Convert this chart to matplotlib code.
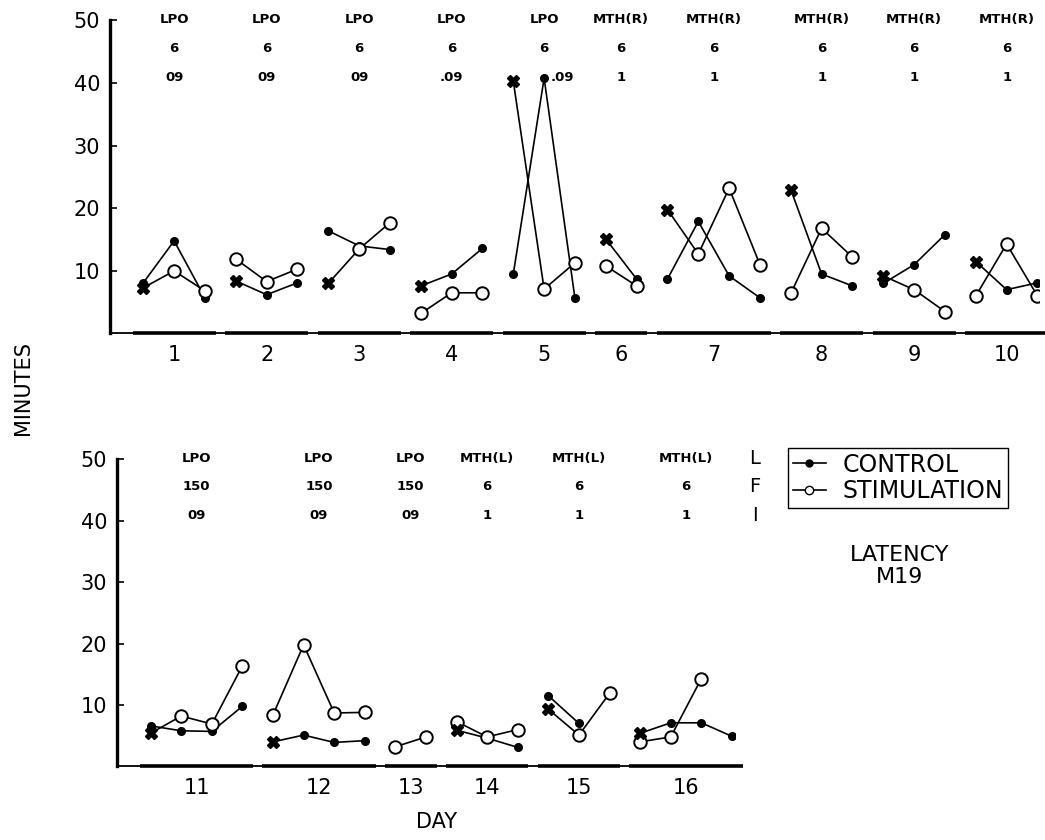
import numpy as np
import matplotlib.pyplot as plt
from matplotlib.lines import Line2D

# days 1-10 (upper panel)
top_days = ["1", "2", "3", "4", "5", "6", "7", "8", "9", "10"]
top_site = ["LPO", "LPO", "LPO", "LPO", "LPO",
            "MTH(R)", "MTH(R)", "MTH(R)", "MTH(R)", "MTH(R)"]
top_freq = ["6", "6", "6", "6", "6", "6", "6", "6", "6", "6"]
top_int = ["09", "09", "09", ".09", ".09", "1", "1", "1", "1", "1"]
top_control = [
    [8.1, 14.8, 5.7],
    [8.4, 6.2, 8.1],
    [16.4, 14.0, 13.4],
    [7.6, 9.5, 13.6],
    [9.5, 40.8, 5.6],
    [15.1, 8.7],
    [8.7, 17.9, 9.2, 5.7],
    [23.0, 9.5, 7.6],
    [8.0, 11.0, 15.8],
    [11.5, 7.0, 8.1],
]
top_stim = [
    [7.3, 10.0, 6.8],
    [11.9, 8.3, 10.3],
    [8.0, 13.5, 17.7],
    [3.2, 6.5, 6.5],
    [40.3, 7.1, 11.3],
    [10.8, 7.6],
    [19.8, 12.7, 23.2, 11.0],
    [6.4, 16.8, 12.2],
    [9.2, 7.0, 3.5],
    [6.0, 14.3, 6.0],
]
# series whose first session is the crossed (pre) point
top_cross = ["s", "c", "s", "c", "s", "c", "s", "c", "s", "c"]

# days 11-16 (lower panel)
bot_days = ["11", "12", "13", "14", "15", "16"]
bot_site = ["LPO", "LPO", "LPO", "MTH(L)", "MTH(L)", "MTH(L)"]
bot_freq = ["150", "150", "150", "6", "6", "6"]
bot_int = ["09", "09", "09", "1", "1", "1"]
bot_control = [
    [6.6, 5.8, 5.7, 9.8],
    [4.0, 5.1, 3.9, 4.2],
    [],
    [5.9, 4.6, 3.1],
    [11.5, 7.0],
    [5.4, 7.1, 7.1, 4.9],
]
bot_stim = [
    [5.4, 8.2, 6.9, 16.4],
    [8.4, 19.8, 8.7, 8.8],
    [3.2, 4.8],
    [7.3, 4.8, 6.0],
    [9.3, 5.1, 11.9],
    [4.0, 4.8, 14.3],
]
bot_cross = ["s", "c", "", "c", "s", "c"]

row_y = [50.2, 45.6, 40.9]


def draw_panel(ax, days, site, freq, inten, control, stim, cross):
    start = 0
    centers = []
    for i in range(len(days)):
        c, s = control[i], stim[i]
        n = max(len(c), len(s))
        xs = np.arange(start, start + n)
        for vals, key in ((c, "c"), (s, "s")):
            if not vals:
                continue
            x = xs[:len(vals)]
            ax.plot(x, vals, "-", color="k", lw=1.2, zorder=2)
            skip = 1 if cross[i] == key else 0
            if key == "c":
                ax.plot(x[skip:], vals[skip:], "o", ms=5.5, mfc="k", mec="k", zorder=3)
            else:
                ax.plot(x[skip:], vals[skip:], "o", ms=9, mfc="white", mec="k",
                        mew=1.4, zorder=3)
            if skip:
                ax.plot(x[0], vals[0], "X", ms=8, color="k", zorder=4)
        center = start + (n - 1) / 2
        centers.append(center)
        # heavier base line under each day's sessions
        ax.plot([start - 0.35, start + n - 1 + 0.35], [0, 0], color="k", lw=2.6,
                solid_capstyle="butt", clip_on=False, zorder=5)
        for txt, y in zip((site[i], freq[i], inten[i]), row_y):
            tx = center
            # move the label aside when a point sits on it
            if max(c + s) > y - 3:
                tx = center + 0.6
            ax.text(tx, y, txt, ha="center", va="center", fontsize=9.5,
                    fontweight="bold", clip_on=False)
        start += n

    ax.set_ylim(0, 50)
    ax.set_yticks([10, 20, 30, 40, 50])
    ax.set_xticks(centers)
    ax.set_xticklabels(days)
    ax.tick_params(axis="x", length=0, pad=8, labelsize=15)
    ax.tick_params(axis="y", direction="in", length=5, width=1.2, pad=7, labelsize=15)
    for side in ("top", "right"):
        ax.spines[side].set_visible(False)
    ax.spines["left"].set_linewidth(2.4)
    ax.spines["bottom"].set_linewidth(1.3)


fig = plt.figure(figsize=(10.45, 8.4), dpi=100)

ax1 = fig.add_axes([110 / 1045, 1 - 333.5 / 840, 929 / 1045, 313 / 840])
draw_panel(ax1, top_days, top_site, top_freq, top_int, top_control, top_stim, top_cross)
ax1.set_xlim(-1.08, 29.05)

ax2 = fig.add_axes([117 / 1045, 1 - 766.4 / 840, 618 / 1045, 307 / 840])
draw_panel(ax2, bot_days, bot_site, bot_freq, bot_int, bot_control, bot_stim, bot_cross)
ax2.set_xlim(-1.1, 19.1)

for txt, y in zip(("L", "F", "I"), row_y):
    ax2.text(19.75, y, txt, ha="center", va="center", fontsize=14, clip_on=False)

handles = [
    Line2D([], [], color="k", lw=1.2, marker="o", ms=5, mfc="k", mec="k"),
    Line2D([], [], color="k", lw=1.2, marker="o", ms=6, mfc="white", mec="k"),
]
fig.legend(handles, ["CONTROL", "STIMULATION"], loc="upper left",
           bbox_to_anchor=(788 / 1045, 1 - 448 / 840), fontsize=17,
           frameon=True, fancybox=False, edgecolor="k", framealpha=1,
           handlelength=1.4, handletextpad=0.7, borderpad=0.2,
           labelspacing=0.1, borderaxespad=0)

fig.text(900 / 1045, 1 - 555 / 840, "LATENCY", ha="center", va="center", fontsize=16)
fig.text(900 / 1045, 1 - 577 / 840, "M19", ha="center", va="center", fontsize=16)
fig.text(23 / 1045, 1 - 388 / 840, "MINUTES", ha="center", va="center",
         rotation=90, fontsize=15)
fig.text(437 / 1045, 1 - 822 / 840, "DAY", ha="center", va="center", fontsize=15)

fig.savefig("out.png", dpi=100, facecolor="white")
